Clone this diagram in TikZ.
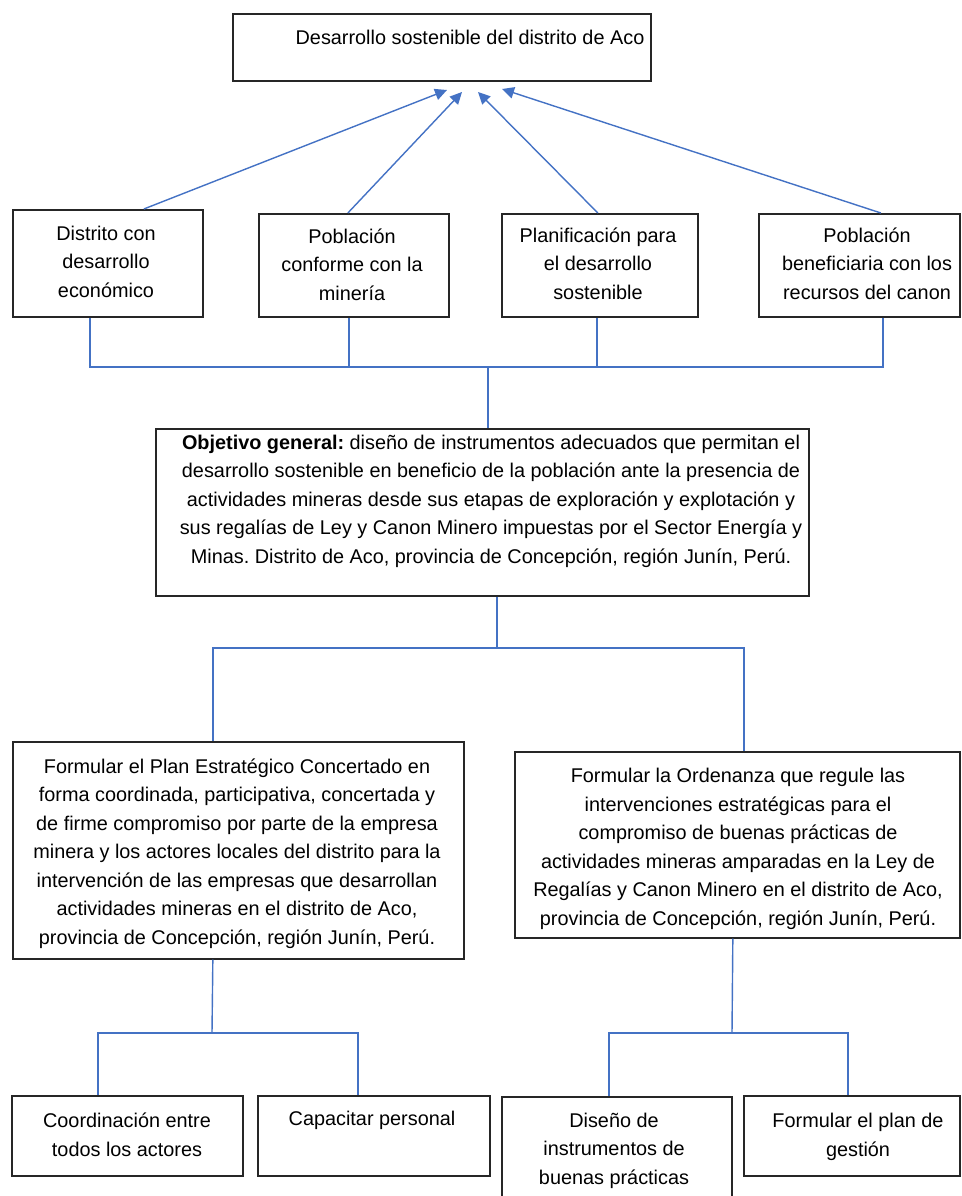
\documentclass[tikz,border=0pt]{standalone}
\usepackage{fontspec}
\setmainfont{Liberation Sans}
\usetikzlibrary{arrows.meta}
\frenchspacing

\definecolor{lineblue}{RGB}{68,114,196}

\tikzset{
  box/.style={draw=black!85, line width=1pt, anchor=north west, inner sep=0pt},
  txt/.style={anchor=base, align=center, inner sep=0pt, font=\fontsize{11.3}{16.2}\selectfont},
  link/.style={draw=lineblue, line width=0.8pt},
  up/.style={link, -{Triangle[length=0.24cm,width=0.23cm]}}
}

\begin{document}
\begin{tikzpicture}[x=0.02cm, y=-0.02cm]
	\useasboundingbox (0,0) rectangle (961,1196);

	% top
	\node[box, minimum width=8.36cm, minimum height=1.34cm] (top) at (232,13) {};
	\node[txt] (ttop) at (470,45) {Desarrollo sostenible del distrito de Aco};

	% ends (text placed at baseline of last line)
	\node[box, minimum width=3.8cm,  minimum height=2.14cm] (d1) at (12,209) {};
	\node[box, minimum width=3.8cm,  minimum height=2.06cm] (d2) at (258,213) {};
	\node[box, minimum width=3.92cm, minimum height=2.06cm] (d3) at (501,213) {};
	\node[box, minimum width=4.02cm, minimum height=2.06cm] (d4) at (758,213) {};
	\node[txt] (td1) at (106,297) {Distrito con\\desarrollo\\económico};
	\node[txt] (td2) at (352,300) {Población\\conforme con la\\minería};
	\node[txt] (td3) at (598,299) {Planificación para\\el desarrollo\\sostenible};
	\node[txt] (td4) at (867,299) {Población\\beneficiaria con los\\recursos del canon};

	% objective
	\node[box, minimum width=13.06cm, minimum height=3.34cm] (obj) at (155,428) {};
	\node[txt] (tobj) at (491,563) {\textbf{Objetivo general:}\ diseño de instrumentos adecuados que permitan el\\
		desarrollo sostenible en beneficio de la población ante la presencia de\\
		actividades mineras desde sus etapas de exploración y explotación y\\
		sus regalías de Ley y Canon Minero impuestas por el Sector Energía y\\
		Minas. Distrito de Aco, provincia de Concepción, región Junín, Perú.};

	% specific objectives
	\node[box, minimum width=9.02cm, minimum height=4.34cm] (p1) at (12,741) {};
	\node[box, minimum width=8.9cm,  minimum height=3.72cm] (p2) at (514,751) {};
	\node[txt] (tp1) at (237,944) {Formular el Plan Estratégico Concertado en\\
		forma coordinada, participativa, concertada y\\
		de firme compromiso por parte de la empresa\\
		minera y los actores locales del distrito para la\\
		intervención de las empresas que desarrollan\\
		actividades mineras en el distrito de Aco,\\
		provincia de Concepción, región Junín, Perú.};
	\node[txt] (tp2) at (738,925) {Formular la Ordenanza que regule las\\
		intervenciones estratégicas para el\\
		compromiso de buenas prácticas de\\
		actividades mineras amparadas en la Ley de\\
		Regalías y Canon Minero en el distrito de Aco,\\
		provincia de Concepción, región Junín, Perú.};

	% means
	\node[box, minimum width=4.62cm, minimum height=1.6cm] (c1) at (11,1095) {};
	\node[box, minimum width=4.64cm, minimum height=1.6cm] (c2) at (257,1095) {};
	\node[box, minimum width=4.6cm,  minimum height=2.2cm] (c3) at (501,1096) {};
	\node[box, minimum width=4.32cm, minimum height=1.6cm] (c4) at (743,1095) {};
	\node[txt] (tc1) at (127,1156) {Coordinación entre\\todos los actores};
	\node[txt] (tc2) at (372,1125) {Capacitar personal};
	\node[txt] (tc3) at (614,1184) {Diseño de\\instrumentos de\\buenas prácticas};
	\node[txt] (tc4) at (858,1156) {Formular el plan de\\gestión};

	% arrows up
	\coordinate (a1) at (447,90);
	\coordinate (a2) at (462,92);
	\coordinate (a3) at (478,92);
	\coordinate (a4) at (502,89);
	\draw[up] ([xshift=0.72cm]d1.north) -- (a1);
	\draw[up] ([xshift=-0.12cm]d2.north) -- (a2);
	\draw[up] ([xshift=-0.04cm]d3.north) -- (a3);
	\draw[up] ([xshift=0.43cm]d4.north) -- (a4);

	% tree lines
	\coordinate (jt) at (488,367);
	\draw[link] ([xshift=-0.36cm]d1.south) |- (jt);
	\draw[link] ([xshift=-0.1cm]d2.south) |- (jt);
	\draw[link] ([xshift=-0.06cm]d3.south) |- (jt);
	\draw[link] ([xshift=0.47cm]d4.south) |- (jt);
	\draw[link] (jt) -- (jt |- obj.north);

	\coordinate (jm) at (497,648);
	\draw[link] (obj.south -| jm) -- (jm);
	\draw[link] (jm) -| ([xshift=-0.51cm]p1.north);
	\draw[link] (jm) -| ([xshift=0.13cm]p2.north);

	\coordinate (jl) at (212,1033);
	\draw[link] ([xshift=-0.51cm]p1.south) -- (jl);
	\draw[link] (jl) -| ([xshift=-0.59cm]c1.north);
	\draw[link] (jl) -| ([xshift=-0.32cm]c2.north);

	\coordinate (jr) at (732,1033);
	\draw[link] ([xshift=-0.09cm]p2.south) -- (jr);
	\draw[link] (jr) -| ([xshift=-0.16cm]c3.north);
	\draw[link] (jr) -| ([xshift=-0.08cm]c4.north);

\end{tikzpicture}
\end{document}
